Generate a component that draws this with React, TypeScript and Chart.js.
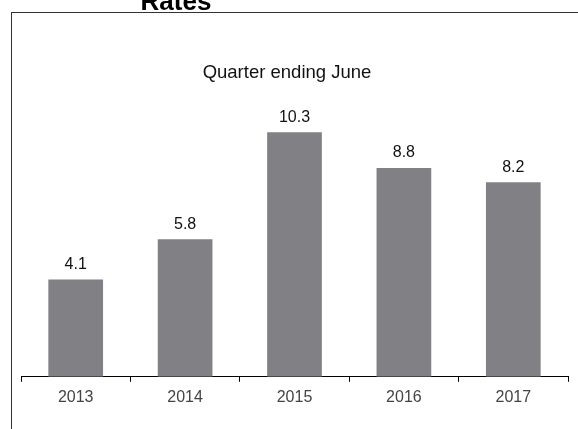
import React, { useEffect, useRef } from "react";
import { Chart, registerables } from "chart.js";

Chart.register(...registerables);

const years = ["2013", "2014", "2015", "2016", "2017"];
const rates = [4.1, 5.8, 10.3, 8.8, 8.2];
const titleText = "Rates";
const subtitleText = "Quarter ending June";

const FONT = "Arial, 'Liberation Sans', Helvetica, sans-serif";

// Prints each bar's value just above its top edge.
const valueLabels = {
  id: "valueLabels",
  afterDatasetsDraw(chart: any) {
    const ctx = chart.ctx;
    const meta = chart.getDatasetMeta(0);
    const values = chart.data.datasets[0].data as number[];
    ctx.save();
    ctx.font = `16px ${FONT}`;
    ctx.fillStyle = "#111111";
    ctx.textAlign = "center";
    ctx.textBaseline = "alphabetic";
    meta.data.forEach((bar: any, i: number) => {
      ctx.fillText(values[i].toFixed(1), bar.x, bar.y - 10.5);
    });
    ctx.restore();
  },
};

export default function App() {
  const canvasRef = useRef<HTMLCanvasElement | null>(null);

  useEffect(() => {
    if (!canvasRef.current) return;
    const chart = new Chart(canvasRef.current, {
      type: "bar",
      data: {
        labels: years,
        datasets: [
          {
            data: rates,
            backgroundColor: "#808085",
            borderWidth: 0,
            categoryPercentage: 1,
            barPercentage: 0.5,
          },
        ],
      },
      options: {
        animation: false,
        responsive: false,
        layout: { padding: { left: 21, right: 10, top: 92, bottom: 16 } },
        plugins: {
          legend: { display: false },
          tooltip: { enabled: false },
          title: { display: false },
        },
        scales: {
          x: {
            grid: {
              offset: true,
              drawOnChartArea: false,
              drawTicks: true,
              tickLength: 5,
              color: "#000000",
            },
            border: { display: true, color: "#000000", width: 1 },
            ticks: {
              color: "#444444",
              font: { family: FONT, size: 16 },
              padding: 6,
            },
          },
          y: {
            display: false,
            min: 0,
            max: 12,
          },
        },
      },
      plugins: [valueLabels],
    });
    return () => chart.destroy();
  }, []);

  return (
    <div
      style={{
        position: "fixed",
        left: 0,
        top: 0,
        width: 578,
        height: 429,
        overflow: "hidden",
        background: "#ffffff",
        fontFamily: FONT,
      }}
    >
      <div
        style={{
          position: "absolute",
          left: 11,
          top: 12,
          width: 580,
          height: 430,
          borderLeft: "1px solid #333333",
          borderTop: "1px solid #333333",
        }}
      />
      <canvas
        ref={canvasRef}
        width={578}
        height={429}
        style={{ position: "absolute", left: 0, top: 0 }}
      />
      <div
        style={{
          position: "absolute",
          left: 76,
          top: -12,
          width: 200,
          textAlign: "center",
          fontSize: 26,
          lineHeight: "26px",
          fontWeight: "bold",
          color: "#000000",
        }}
      >
        {titleText}
      </div>
      <div
        style={{
          position: "absolute",
          left: 0,
          top: 63,
          width: 574,
          textAlign: "center",
          fontSize: 18.5,
          lineHeight: "18.5px",
          color: "#111111",
        }}
      >
        {subtitleText}
      </div>
    </div>
  );
}
